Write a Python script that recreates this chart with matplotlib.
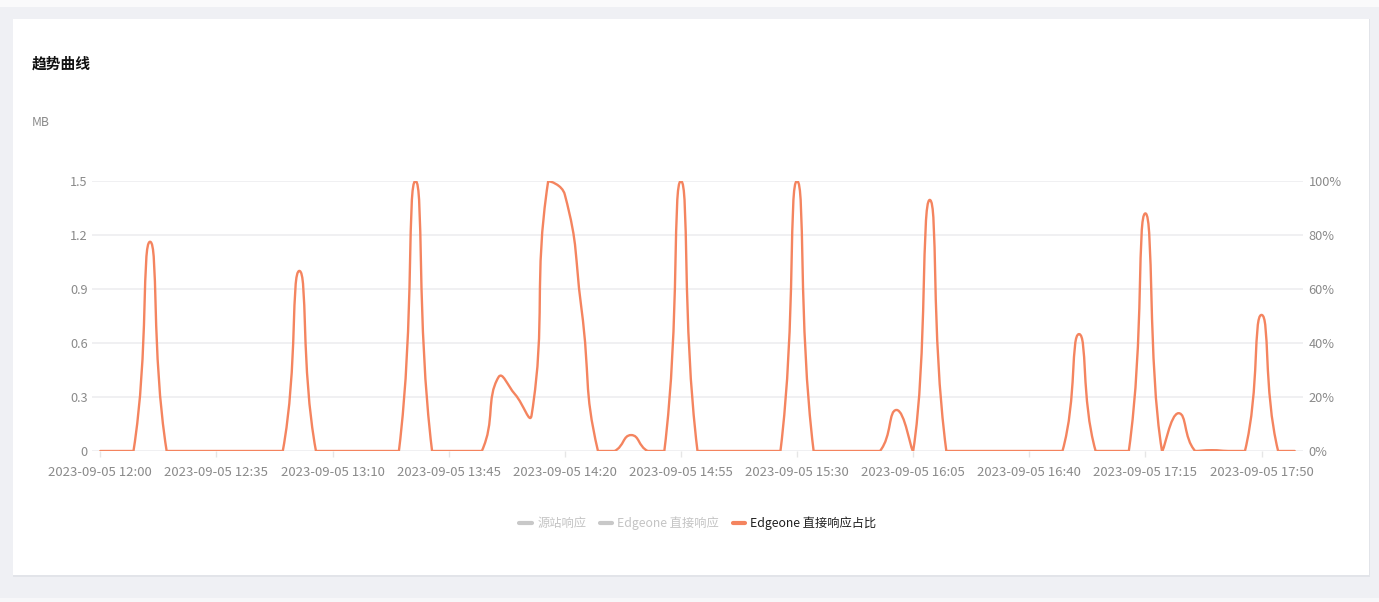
import numpy as np
import pandas as pd
import matplotlib
matplotlib.use('Agg')
import matplotlib.pyplot as plt
from matplotlib.path import Path
from matplotlib.patches import PathPatch, Rectangle
from matplotlib.lines import Line2D

plt.rcParams['font.family'] = ['Noto Sans CJK SC', 'DejaVu Sans']

# 5-minute buckets, 12:00 -> 18:00
times = pd.date_range('2023-09-05 12:00', '2023-09-05 18:00', freq='5min')

# Edgeone direct response ratio (%)
ratio = [0, 0, 0, 77.5, 0, 0, 0, 0, 0, 0,
         0, 0, 66.7, 0, 0, 0, 0, 0, 0, 100,
         0, 0, 0, 0, 27.3, 21, 13.3, 100, 95, 53,
         0, 0, 5.9, 0, 0, 100, 0, 0, 0, 0,
         0, 0, 100, 0, 0, 0, 0, 0, 15.2, 0,
         93, 0, 0, 0, 0, 0, 0, 0, 0, 43.3,
         0, 0, 0, 88, 0, 14, 0, 0.3, 0, 0,
         50.4, 0, 0]

tick_pos = [0, 7, 14, 21, 28, 35, 42, 49, 56, 63, 70]
tick_labels = ['2023-09-05 12:00', '2023-09-05 12:35', '2023-09-05 13:10',
               '2023-09-05 13:45', '2023-09-05 14:20', '2023-09-05 14:55',
               '2023-09-05 15:30', '2023-09-05 16:05', '2023-09-05 16:40',
               '2023-09-05 17:15', '2023-09-05 17:50']
mb_ticks = [0, 0.3, 0.6, 0.9, 1.2, 1.5]
mb_labels = ['0', '0.3', '0.6', '0.9', '1.2', '1.5']
pct_ticks = [0, 20, 40, 60, 80, 100]
pct_labels = ['0%', '20%', '40%', '60%', '80%', '100%']
legend_names = ['源站响应', 'Edgeone 直接响应', 'Edgeone 直接响应占比']
legend_colors = ['#c8c8c8', '#c8c8c8', '#f4845f']
legend_text = ['#c4c4c4', '#c4c4c4', '#1f1f1f']

LINE = '#f4845f'
LABEL = '#8a8a8a'
GRID = '#efeff1'

W, H = 1379, 602


def smooth_path(ax, xs, ys, smooth=0.5):
    # bezier smoothing in pixel space, control points kept inside the points' bbox
    pts = ax.transData.transform(np.column_stack([xs, ys]))
    lo = pts.min(axis=0)
    hi = pts.max(axis=0)
    n = len(pts)
    verts = [pts[0]]
    codes = [Path.MOVETO]
    cp0 = pts[0].copy()
    for k in range(1, n):
        p = pts[k]
        prev = pts[k - 1]
        ratio_next = 0.5
        v = np.zeros(2)
        if k == n - 1:
            cp1 = p.copy()
        else:
            nxt = pts[k + 1]
            v = nxt - prev
            d0 = np.hypot(*(p - prev))
            d1 = np.hypot(*(nxt - p))
            ratio_next = d1 / (d0 + d1)
            cp1 = p - v * smooth * (1 - ratio_next)
        cp0 = np.clip(cp0, lo, hi)
        cp1 = np.clip(cp1, lo, hi)
        verts += [cp0, cp1, p]
        codes += [Path.CURVE4] * 3
        cp0 = p + v * smooth * ratio_next
    data = ax.transData.inverted().transform(np.array(verts))
    return Path(data, codes)


fig = plt.figure(figsize=(W / 100, H / 100), dpi=100)
fig.patch.set_facecolor('#eff0f4')

# page bands and card
fig.add_artist(Rectangle((0, 1 - 7 / H), 1, 7 / H, transform=fig.transFigure,
                         fc='#fafafb', ec='none', zorder=0))
fig.add_artist(Rectangle((0, 0), 1, 4 / H, transform=fig.transFigure,
                         fc='#f7f7f9', ec='none', zorder=0))
fig.add_artist(Rectangle((13 / W, 1 - 577 / H), 1357 / W, 558 / H,
                         transform=fig.transFigure, fc='#e2e4e9', ec='none', zorder=0))
fig.add_artist(Rectangle((13 / W, 1 - 575 / H), 1356 / W, 556 / H,
                         transform=fig.transFigure, fc='white', ec='none', zorder=0))

fig.text(32 / W, 1 - 64 / H, '趋势曲线', fontsize=10.6, fontweight='bold',
         color='#111111', va='center', ha='left')
fig.text(32 / W, 1 - 122 / H, 'MB', fontsize=8.8, color=LABEL, va='center', ha='left')

ax = fig.add_axes([92 / W, 1 - 451 / H, (1303 - 92) / W, 270 / H])
ax.set_facecolor('none')
ax.set_xlim(-0.5, len(times) - 0.5)
ax.set_ylim(0, 1.5)
for s in ax.spines.values():
    s.set_visible(False)
ax.set_yticks(mb_ticks)
ax.set_yticklabels(mb_labels)
ax.grid(axis='y', color=GRID, lw=1.3)
ax.set_axisbelow(True)
ax.set_xticks(tick_pos)
ax.set_xticklabels(tick_labels)
ax.tick_params(axis='x', length=4, width=1, color='#e6e6e6', pad=7,
               labelsize=9.5, labelcolor=LABEL)
ax.tick_params(axis='y', length=0, pad=3, labelsize=9.2, labelcolor=LABEL)

ax2 = ax.twinx()
ax2.set_ylim(0, 100)
for s in ax2.spines.values():
    s.set_visible(False)
ax2.set_yticks(pct_ticks)
ax2.set_yticklabels(pct_labels)
ax2.tick_params(axis='y', length=0, pad=4, labelsize=9.2, labelcolor=LABEL)

path = smooth_path(ax2, np.arange(len(ratio)), ratio)
ax2.add_patch(PathPatch(path, fc='none', ec=LINE, lw=1.7, capstyle='round',
                        joinstyle='round'))

handles = [Line2D([], [], color=c, lw=3, solid_capstyle='round') for c in legend_colors]
leg = ax.legend(handles, legend_names, loc='center', ncol=3, frameon=False,
                bbox_to_anchor=(698 / W, 1 - 523 / H), bbox_transform=fig.transFigure,
                fontsize=8.8, handlelength=1.0, handletextpad=0.45,
                columnspacing=1.1)
for t, c in zip(leg.get_texts(), legend_text):
    t.set_color(c)

fig.savefig('out.png', dpi=100, facecolor=fig.get_facecolor())
